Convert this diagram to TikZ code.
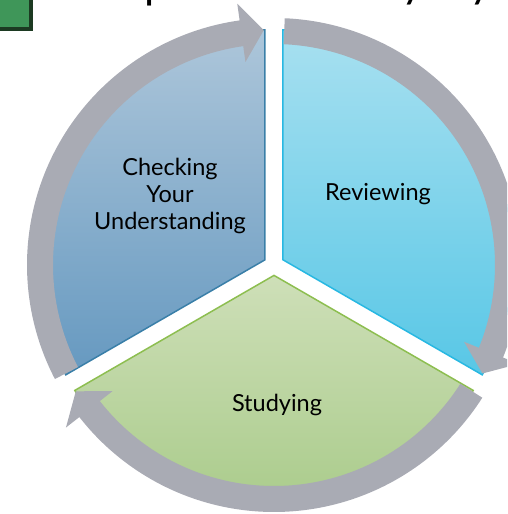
\documentclass[tikz,border=0pt]{standalone}
\usepackage{fontspec}
\setmainfont{Lato}
\definecolor{ringgray}{HTML}{A9ABB4}
\definecolor{bluetop}{HTML}{ADC6DA}
\definecolor{bluebot}{HTML}{6699C0}
\definecolor{blueedge}{HTML}{3A7FA8}
\definecolor{cyantop}{HTML}{A8E0F0}
\definecolor{cyanbot}{HTML}{58C7E6}
\definecolor{cyanedge}{HTML}{28B8E2}
\definecolor{greentop}{HTML}{CEDFB8}
\definecolor{greenbot}{HTML}{A5C985}
\definecolor{greenedge}{HTML}{8DBE50}
\definecolor{sqgreen}{HTML}{3F9659}
\definecolor{sqdark}{HTML}{1C3A22}
\begin{document}
\begin{tikzpicture}[x=1pt,y=1pt,
  wedgeline/.style={line width=1.5pt, line join=miter},
  ringarrow/.style={fill=ringgray},
  lbl/.style={font=\fontsize{23.5}{27}\selectfont, align=center, text=black, inner sep=0pt},
  titlechar/.style={font=\fontsize{44}{50}\selectfont, anchor=south, inner sep=0pt, text=black}]
\useasboundingbox (-274,265) rectangle (233,-249);
\clip (-274,265) rectangle (233,-249);
% wedges
\path[wedgeline, draw=blueedge, top color=bluetop, bottom color=bluebot]
  (-9,5.2) -- ++(90:230) arc[start angle=90, end angle=210, radius=230] -- cycle;
\path[wedgeline, draw=cyanedge, top color=cyantop, bottom color=cyanbot]
  (9,5.2) -- ++(90:230) arc[start angle=90, end angle=-30, radius=230] -- cycle;
\path[wedgeline, draw=greenedge, top color=greentop, bottom color=greenbot]
  (0,-10.4) -- ++(210:230) arc[start angle=210, end angle=330, radius=230] -- cycle;
% circular arrows
\foreach \T in {207.5, 87.5, -32.5}{
  \pgfmathsetmacro{\B}{\T-109.5}
  \pgfmathsetmacro{\P}{\T-115}
  \fill[ringarrow] (\T:247) arc[start angle=\T, end angle=\B, radius=247]
    -- (\B:264) -- (\P:235) -- (\B:205) -- (\B:221)
    arc[start angle=\B, end angle=\T, radius=221] -- cycle;
}
% labels
\node[lbl] (check) at (-104,69) {Checking\\Your\\Understanding};
\node[lbl] (review) at (104,71) {Reviewing};
\node[lbl] (study) at (3,-140) {Studying};
% green square at top left
\fill[sqdark] (-280,270) rectangle (-241,234);
\fill[sqgreen] (-280,270) rectangle (-245,238);
% cut-off title letters
\node[titlechar] (tp) at (-117,259) {p};
\node[titlechar] (ty1) at (139,260) {y};
\node[titlechar] (ty2) at (207,260) {y};
\end{tikzpicture}
\end{document}
